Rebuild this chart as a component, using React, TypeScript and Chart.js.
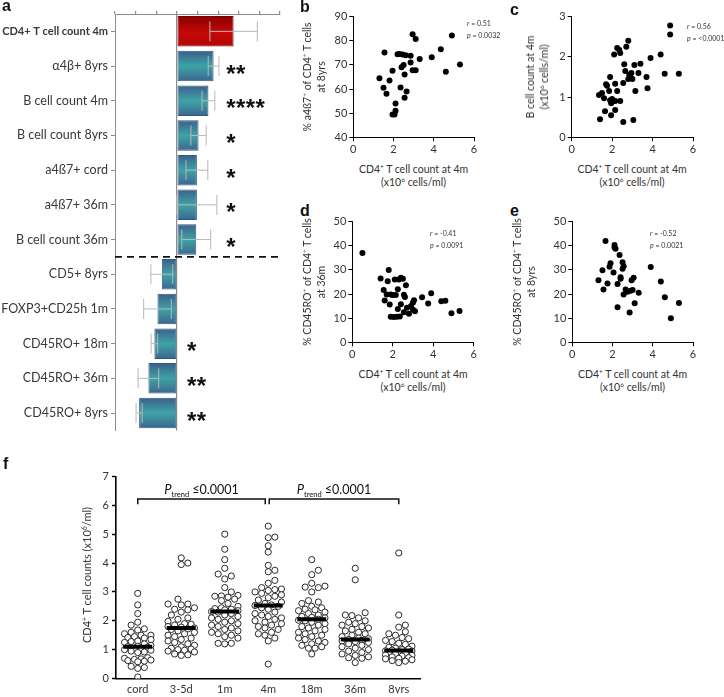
import React, { useEffect, useRef } from 'react';
import { Chart, registerables } from 'chart.js';
Chart.register(...registerables);
Chart.defaults.font.family = 'Lato';

// ---------------- Panel a data ----------------
const aLabels = ['CD4+ T cell count 4m', 'α4β+ 8yrs', 'B cell count 4m', 'B cell count 8yrs', 'a4ß7+ cord', 'a4ß7+ 36m', 'B cell count 36m', 'CD5+ 8yrs', 'FOXP3+CD25h 1m', 'CD45RO+ 18m', 'CD45RO+ 36m', 'CD45RO+ 8yrs'];
const aValues = [0.275, 0.178, 0.153, 0.105, 0.097, 0.097, 0.094, -0.073, -0.094, -0.109, -0.138, -0.183];
const aErrors = [0.115, 0.026, 0.031, 0.037, 0.053, 0.097, 0.07, 0.053, 0.067, 0.016, 0.05, 0.015];
const aStars = ['', '**', '****', '*', '*', '*', '*', '', '', '*', '**', '**'];

// ---------------- Panels b-e data ----------------
const bX = [1.55, 2.2, 2.3, 2.45, 2.6, 2.85, 2.95, 3.1, 4.9, 4.35, 3.9, 3.3, 2.85, 2.5, 2.4, 1.95, 2.95, 3.1, 4.6, 5.3, 2.55, 1.3, 1.8, 1.5, 2.35, 2.65, 2.55, 1.65, 2.1, 2.1, 1.95, 2.05];
const bY = [75.2, 74.4, 74.5, 74.3, 74.0, 73.8, 82.7, 80.8, 82.2, 76.5, 73.2, 72.5, 71.0, 70.0, 69.0, 67.6, 67.8, 67.8, 67.2, 70.2, 66.0, 64.5, 63.5, 60.5, 60.6, 59.0, 56.4, 58.1, 54.0, 51.0, 49.5, 49.5];

const cX = [4.87, 4.87, 2.8, 2.25, 2.35, 2.4, 2.7, 2.1, 4.4, 3.9, 1.9, 1.75, 1.7, 1.85, 2.15, 2.25, 2.55, 2.6, 2.65, 2.8, 2.9, 2.95, 3.0, 2.85, 3.1, 3.3, 3.4, 3.7, 4.6, 5.3, 3.75, 3.15, 1.35, 1.5, 1.6, 1.9, 1.95, 2.0, 2.15, 2.4, 1.65, 1.95, 2.15, 1.4, 2.55, 3.05];
const cY = [2.78, 2.56, 2.4, 2.22, 2.18, 2.1, 2.25, 2.06, 2.06, 1.97, 1.5, 1.28, 1.32, 1.15, 1.33, 1.15, 1.35, 1.82, 1.65, 1.45, 1.5, 1.6, 1.45, 1.55, 1.8, 1.6, 1.83, 1.5, 1.58, 1.58, 1.22, 1.15, 1.05, 1.1, 0.97, 0.92, 0.85, 0.95, 0.9, 0.9, 0.65, 0.55, 0.68, 0.45, 0.38, 0.43];

const dX = [0.5, 1.4, 1.75, 1.8, 1.55, 1.6, 1.7, 1.9, 2.0, 2.15, 2.1, 2.25, 2.3, 2.4, 2.5, 2.55, 2.6, 2.65, 1.85, 2.25, 2.4, 2.55, 2.7, 2.8, 2.9, 3.0, 3.05, 3.0, 3.1, 1.9, 2.05, 2.2, 2.35, 3.45, 3.75, 3.9, 4.4, 4.6, 4.9, 5.3];
const dY = [37, 26.5, 25.3, 30, 21.7, 17.3, 19.8, 19.8, 19.6, 19.6, 26, 22, 26, 26.8, 26.3, 19.7, 18.8, 23.7, 15.7, 13.8, 15.8, 12.5, 14.3, 11.8, 15, 16.5, 17.4, 13.5, 12.9, 10.6, 10.5, 10.6, 10.7, 18.7, 16.1, 20.3, 17, 17.2, 12, 13];

const eX = [1.65, 2.1, 2.1, 2.15, 2.35, 1.9, 1.85, 2.05, 1.5, 2.5, 2.55, 2.5, 3.9, 2.4, 2.4, 1.3, 1.55, 1.75, 2.25, 2.95, 3.05, 2.65, 2.75, 2.9, 3.0, 2.55, 3.3, 3.1, 2.25, 2.85, 4.4, 4.6, 4.9, 5.3];
const eY = [42, 40.3, 39.3, 38.8, 36.2, 32.8, 31.3, 28.9, 29.9, 33.2, 31.5, 30.5, 31.2, 27, 26.3, 25.7, 21.9, 24.4, 24.2, 25.7, 26.8, 21.9, 21, 21.4, 21.7, 19.8, 20.5, 16.2, 14.5, 12.4, 25.2, 18.7, 10, 16.3];

// ---------------- Panel f data ----------------
const fCats = ['cord', '3-5d', '1m', '4m', '18m', '36m', '8yrs'];
const fCord = [2.95, 2.55, 2.25, 1.95, 1.85, 1.72, 1.68, 1.6, 1.55, 1.5, 1.5, 1.45, 1.42, 1.4, 1.35, 1.3, 1.28, 1.25, 1.2, 1.15, 1.12, 1.1, 1.08, 1.05, 1.02, 1.0, 0.98, 0.95, 0.92, 0.9, 0.72, 0.7, 0.68, 0.66, 0.64, 0.62, 0.6, 0.58, 0.42, 0.38, 0.35, 0.05];
const f35d = [4.18, 4.0, 3.95, 2.75, 2.58, 2.58, 2.55, 2.45, 2.4, 2.38, 2.3, 2.2, 2.1, 2.05, 1.98, 1.9, 1.88, 1.85, 1.8, 1.78, 1.75, 1.72, 1.7, 1.65, 1.6, 1.55, 1.5, 1.45, 1.4, 1.35, 1.3, 1.25, 1.2, 1.15, 1.1, 1.05, 1.02, 1.0, 0.98, 0.95, 0.92, 0.85, 0.82, 0.8];
const f1m = [5.0, 4.48, 4.12, 3.82, 3.62, 3.55, 3.45, 3.15, 3.0, 2.88, 2.86, 2.85, 2.82, 2.75, 2.7, 2.6, 2.5, 2.45, 2.42, 2.4, 2.38, 2.35, 2.32, 2.3, 2.25, 2.2, 2.15, 2.1, 2.05, 2.0, 1.95, 1.9, 1.85, 1.8, 1.75, 1.7, 1.65, 1.6, 1.55, 1.5, 1.45, 1.4, 1.22, 1.22, 1.2];
const f4m = [5.28, 4.9, 4.88, 4.6, 4.38, 3.92, 3.75, 3.7, 3.4, 3.3, 3.15, 3.1, 3.08, 3.05, 3.0, 2.95, 2.9, 2.85, 2.8, 2.72, 2.65, 2.6, 2.55, 2.53, 2.5, 2.45, 2.4, 2.3, 2.25, 2.2, 2.15, 2.1, 2.05, 2.0, 1.95, 1.9, 1.85, 1.8, 1.75, 1.7, 1.6, 1.55, 1.5, 1.4, 1.3, 0.5];
const f18m = [4.12, 3.75, 3.6, 3.3, 3.2, 3.17, 3.15, 3.0, 2.7, 2.65, 2.6, 2.5, 2.45, 2.4, 2.38, 2.35, 2.3, 2.25, 2.2, 2.15, 2.12, 2.1, 2.05, 2.02, 2.0, 1.95, 1.9, 1.85, 1.8, 1.75, 1.7, 1.65, 1.6, 1.55, 1.5, 1.45, 1.4, 1.35, 1.3, 1.25, 1.2, 1.15, 1.1, 1.05, 1.05, 0.85];
const f36m = [3.82, 3.42, 2.28, 2.2, 2.18, 2.1, 2.0, 1.95, 1.9, 1.85, 1.8, 1.75, 1.7, 1.65, 1.6, 1.55, 1.5, 1.45, 1.4, 1.38, 1.35, 1.32, 1.3, 1.28, 1.25, 1.2, 1.15, 1.1, 1.05, 1.0, 0.95, 0.9, 0.85, 0.8, 0.75, 0.72, 0.7, 0.55];
const f8yrs = [4.35, 2.2, 1.85, 1.78, 1.62, 1.55, 1.5, 1.42, 1.38, 1.32, 1.28, 1.22, 1.18, 1.12, 1.08, 1.05, 1.02, 1.0, 0.98, 0.96, 0.95, 0.93, 0.9, 0.88, 0.85, 0.82, 0.8, 0.78, 0.75, 0.72, 0.7, 0.68, 0.65, 0.62, 0.6, 0.55];
const fGroups = [fCord, f35d, f1m, f4m, f18m, f36m, f8yrs];
const fMedians = [1.1, 1.75, 2.32, 2.53, 2.05, 1.35, 0.97];
const fBracketFrom = [0, 3];
const fBracketTo = [3, 6];
const fBracketP = ['≤0.0001', '≤0.0001'];

// ---------------- layout ----------------
type Rect = { left: number; top: number; width: number; height: number };
type Area = { l: number; t: number; r: number; b: number };

const aRect: Rect = { left: 0, top: 0, width: 300, height: 440 };
const aArea: Area = { l: 115, t: 14, r: 280, b: 437 };
const bRect: Rect = { left: 320, top: 6, width: 170, height: 152 };
const bArea: Area = { l: 353.3, t: 16.7, r: 474, b: 137.3 };
const cRect: Rect = { left: 540, top: 6, width: 170, height: 152 };
const cArea: Area = { l: 571.7, t: 16.7, r: 693, b: 137.3 };
const dRect: Rect = { left: 320, top: 211, width: 170, height: 152 };
const dArea: Area = { l: 352.3, t: 221.7, r: 473.7, b: 342.3 };
const eRect: Rect = { left: 540, top: 211, width: 170, height: 152 };
const eArea: Area = { l: 572.3, t: 221.7, r: 693, b: 342.3 };
const fRect: Rect = { left: 0, top: 458, width: 440, height: 239 };
const fArea: Area = { l: 116, t: 469, r: 420.5, b: 682 };

const TXT = '#333';

function ChartBox({ rect, make }: { rect: Rect; make: (c: HTMLCanvasElement) => Chart }) {
  const ref = useRef<HTMLCanvasElement>(null);
  useEffect(() => {
    const ch = make(ref.current as HTMLCanvasElement);
    return () => ch.destroy();
  }, []);
  return (
    <canvas
      ref={ref}
      width={rect.width}
      height={rect.height}
      style={{ position: 'absolute', left: rect.left, top: rect.top, width: rect.width, height: rect.height }}
    />
  );
}

// ---------------- Panel a ----------------
const aPlugin = {
  id: 'aExtras',
  afterDatasetsDraw(chart: any) {
    const { ctx, scales, chartArea } = chart;
    const x = scales.x, y = scales.y;
    ctx.save();
    ctx.strokeStyle = '#b8b8b8';
    ctx.lineWidth = 1;
    aValues.forEach((v, i) => {
      const yc = y.getPixelForValue(i);
      const x1 = x.getPixelForValue(v - aErrors[i]);
      const x2 = x.getPixelForValue(v + aErrors[i]);
      const cap = 10;
      ctx.beginPath();
      ctx.moveTo(x1, yc); ctx.lineTo(x2, yc);
      ctx.moveTo(x1, yc - cap); ctx.lineTo(x1, yc + cap);
      ctx.moveTo(x2, yc - cap); ctx.lineTo(x2, yc + cap);
      ctx.stroke();
    });
    ctx.fillStyle = '#111';
    ctx.font = 'bold 24px "Liberation Sans"';
    ctx.textAlign = 'center';
    ctx.textBaseline = 'alphabetic';
    aStars.forEach((s, i) => {
      if (!s) return;
      const yc = y.getPixelForValue(i);
      const start = x.getPixelForValue(aValues[i] > 0 ? 0.24 : 0.05);
      for (let k = 0; k < s.length; k++) {
        ctx.fillText('*', start + 4.5 + k * 9.8, yc + 15.5);
      }
    });
    const yd = (y.getPixelForValue(6) + y.getPixelForValue(7)) / 2;
    ctx.strokeStyle = '#111';
    ctx.lineWidth = 1.6;
    ctx.setLineDash([7, 5]);
    ctx.beginPath();
    ctx.moveTo(chartArea.left, yd);
    ctx.lineTo(chartArea.right, yd);
    ctx.stroke();
    ctx.restore();
  },
};

function makeA(canvas: HTMLCanvasElement) {
  const rect = aRect, area = aArea;
  return new Chart(canvas, {
    type: 'bar',
    data: {
      labels: aLabels,
      datasets: [
        {
          data: aValues,
          backgroundColor: (ctx: any) => {
            const chart = ctx.chart;
            const ys = chart.scales && chart.scales.y;
            const fallback = ctx.dataIndex === 0 ? '#b00000' : '#3a8fa0';
            if (ctx.type !== 'data' || !ys) return fallback;
            const c = ys.getPixelForValue(ctx.dataIndex);
            const band = ys.height / aLabels.length;
            const h = (band * 0.88) / 2;
            if (!isFinite(c) || !isFinite(h) || h <= 0) return fallback;
            const g = chart.ctx.createLinearGradient(0, c - h, 0, c + h);
            if (ctx.dataIndex === 0) {
              g.addColorStop(0, '#8a0000');
              g.addColorStop(0.55, '#c40808');
              g.addColorStop(1, '#b40404');
            } else {
              g.addColorStop(0, '#3c5e8c');
              g.addColorStop(0.5, '#3ea3a6');
              g.addColorStop(1, '#3c6590');
            }
            return g;
          },
          borderColor: (ctx: any) => (ctx.dataIndex === 0 ? '#7a0000' : '#2f5a7e'),
          borderWidth: 1,
          borderSkipped: false,
          barPercentage: 0.88,
          categoryPercentage: 1,
        } as any,
      ],
    },
    options: {
      indexAxis: 'y',
      animation: false,
      responsive: false,
      events: [],
      layout: { padding: { left: 0, top: 0, right: rect.left + rect.width - area.r, bottom: rect.top + rect.height - area.b } },
      plugins: { legend: { display: false }, tooltip: { enabled: false } },
      scales: {
        x: {
          type: 'linear',
          position: 'top',
          min: -0.3,
          max: 0.5,
          ticks: { display: false, stepSize: 0.1 },
          grid: {
            color: (c: any) => (c.tick && Math.abs(c.tick.value) < 1e-6 ? '#8c8c8c' : 'rgba(0,0,0,0)'),
            tickColor: '#8c8c8c',
            tickLength: 3,
            lineWidth: 1.2,
          },
          border: { color: '#8c8c8c', width: 1 },
          afterFit: (s: any) => { s.height = area.t - rect.top; },
        },
        y: {
          type: 'category',
          grid: { offset: false, drawOnChartArea: false, tickLength: 4, tickColor: '#8c8c8c' },
          border: { color: '#8c8c8c', width: 1 },
          ticks: {
            color: '#383838',
            padding: 3,
            font: (c: any) => (c.index === 0 ? { family: 'Lato', size: 11, weight: 'bold' } : { family: 'Lato', size: 12.5, weight: 'normal' }),
          },
          afterFit: (s: any) => { s.width = area.l - rect.left; },
        },
      },
    } as any,
    plugins: [aPlugin],
  });
}

// ---------------- Panels b-e ----------------
function makeScatter(rect: Rect, area: Area, xs: number[], ys: number[], yMin: number, yMax: number, yStep: number) {
  return (canvas: HTMLCanvasElement) =>
    new Chart(canvas, {
      type: 'scatter',
      data: {
        datasets: [
          {
            data: xs.map((x, i) => ({ x, y: ys[i] })),
            pointRadius: 3,
            pointHoverRadius: 3,
            pointBackgroundColor: '#000',
            pointBorderWidth: 0,
          },
        ],
      },
      options: {
        animation: false,
        responsive: false,
        events: [],
        layout: { padding: { left: 0, bottom: 0, top: area.t - rect.top, right: rect.left + rect.width - area.r } },
        plugins: { legend: { display: false }, tooltip: { enabled: false } },
        scales: {
          x: {
            type: 'linear',
            min: 0,
            max: 6,
            ticks: { stepSize: 2, color: TXT, font: { size: 11 }, padding: 2 },
            grid: { drawOnChartArea: false, tickLength: 4, tickColor: '#000' },
            border: { color: '#000', width: 1 },
            afterFit: (s: any) => { s.height = rect.top + rect.height - area.b; },
          },
          y: {
            type: 'linear',
            min: yMin,
            max: yMax,
            ticks: { stepSize: yStep, color: TXT, font: { size: 11 }, padding: 2 },
            grid: { drawOnChartArea: false, tickLength: 4, tickColor: '#000' },
            border: { color: '#000', width: 1 },
            afterFit: (s: any) => { s.width = area.l - rect.left; },
          },
        },
      } as any,
    });
}

// ---------------- Panel f ----------------
const F_PX_PER_UNIT = (fArea.b - fArea.t) / 7;
const F_PX_PER_CAT = (fArea.r - fArea.l) / fCats.length;

function swarmOffsets(values: number[], diam: number, maxOff: number): number[] {
  const placed: { x: number; y: number }[] = [];
  const order = values.map((_, i) => i).sort((a, b) => values[a] - values[b]);
  const res = new Array(values.length).fill(0);
  const step = diam / 2;
  const cands: number[] = [0];
  for (let k = 1; k * step <= maxOff; k++) cands.push(k * step, -k * step);
  for (const i of order) {
    const y = values[i] * F_PX_PER_UNIT;
    let best = 0, bestD = -1;
    for (const c of cands) {
      let minD = Infinity;
      for (const p of placed) {
        const d = Math.hypot(p.x - c, p.y - y);
        if (d < minD) minD = d;
      }
      if (minD >= diam) { best = c; break; }
      if (minD > bestD) { bestD = minD; best = c; }
    }
    placed.push({ x: best, y });
    res[i] = best;
  }
  return res;
}

const fPlugin = {
  id: 'fExtras',
  afterDraw(chart: any) {
    const { ctx, scales } = chart;
    const x = scales.x, y = scales.y;
    ctx.save();
    ctx.strokeStyle = '#111';
    ctx.fillStyle = '#111';
    ctx.lineWidth = 1.5;
    const yTop = y.getPixelForValue(6.22);
    const yBot = y.getPixelForValue(6.04);
    const yTxt = y.getPixelForValue(6.39);
    fBracketFrom.forEach((from, k) => {
      const x1 = x.getPixelForValue(from) + (k > 0 ? 1 : 0);
      const x2 = x.getPixelForValue(fBracketTo[k]) - (k === 0 ? 3 : 0);
      ctx.beginPath();
      ctx.moveTo(x1, yBot); ctx.lineTo(x1, yTop); ctx.lineTo(x2, yTop); ctx.lineTo(x2, yBot);
      ctx.stroke();
      const fMain = '12.5px Lato';
      const fItal = 'italic 13px Lato';
      const fSub = '7.5px Lato';
      ctx.font = fItal; const wP = ctx.measureText('P').width;
      ctx.font = fSub; const wS = ctx.measureText('trend').width;
      ctx.font = fMain; const wV = ctx.measureText(' ' + fBracketP[k]).width;
      let cx = (x1 + x2) / 2 - (wP + wS + wV) / 2;
      ctx.textAlign = 'left';
      ctx.textBaseline = 'alphabetic';
      ctx.font = fItal; ctx.fillText('P', cx, yTxt); cx += wP;
      ctx.font = fSub; ctx.fillText('trend', cx, yTxt + 3); cx += wS;
      ctx.font = fMain; ctx.fillText(' ' + fBracketP[k], cx, yTxt);
    });
    ctx.restore();
  },
};

function makeF(canvas: HTMLCanvasElement) {
  const rect = fRect, area = fArea;
  const pts: { x: number; y: number }[] = [];
  fGroups.forEach((vals, g) => {
    const offs = swarmOffsets(vals, 6.6, 13.5);
    vals.forEach((v, i) => pts.push({ x: g + offs[i] / F_PX_PER_CAT, y: v }));
  });
  return new Chart(canvas, {
    type: 'scatter',
    data: {
      datasets: [
        {
          data: fMedians.map((m, i) => ({ x: i, y: m })),
          pointStyle: 'line',
          pointRadius: 14.5,
          pointHoverRadius: 14.5,
          pointBorderColor: '#000',
          borderColor: '#000',
          pointBorderWidth: 4,
          order: 0,
        },
        {
          data: pts,
          pointRadius: 3.1,
          pointHoverRadius: 3.1,
          pointBackgroundColor: '#fff',
          pointBorderColor: '#2a2a2a',
          pointBorderWidth: 1,
          order: 1,
        },
      ],
    },
    options: {
      animation: false,
      responsive: false,
      events: [],
      layout: { padding: { left: 0, bottom: 0, top: area.t - rect.top, right: rect.left + rect.width - area.r } },
      plugins: { legend: { display: false }, tooltip: { enabled: false } },
      scales: {
        x: {
          type: 'linear',
          min: -0.5,
          max: fCats.length - 0.5,
          afterBuildTicks: (s: any) => { s.ticks = fCats.map((_, i) => ({ value: i })); },
          ticks: { color: TXT, font: { size: 11 }, padding: 4, callback: (v: any) => fCats[v] ?? '' },
          grid: { drawOnChartArea: false, drawTicks: false },
          border: { color: '#000', width: 1.6 },
          afterFit: (s: any) => { s.height = rect.top + rect.height - area.b; },
        },
        y: {
          type: 'linear',
          min: 0,
          max: 7,
          ticks: { stepSize: 1, color: TXT, font: { size: 11 }, padding: 3 },
          grid: { drawOnChartArea: false, tickLength: 4, tickColor: '#000', tickWidth: 1.5 },
          border: { color: '#000', width: 1.6 },
          afterFit: (s: any) => { s.width = area.l - rect.left; },
        },
      },
    } as any,
    plugins: [fPlugin],
  });
}

// ---------------- text helpers ----------------
const sup: React.CSSProperties = { fontSize: '0.62em', verticalAlign: '0.55em', lineHeight: 0 };

function Txt({ x, y, size = 10.5, children, align = 'center', style }: any) {
  const tx = align === 'center' ? '-50%' : align === 'right' ? '-100%' : '0';
  return (
    <div
      style={{
        position: 'absolute', left: x, top: y, transform: `translate(${tx}, -50%)`,
        fontSize: size, lineHeight: 1.2, whiteSpace: 'nowrap', color: TXT, fontFamily: 'Lato', ...style,
      }}
    >
      {children}
    </div>
  );
}

function VTxt({ x, y, size = 10.5, children, lh = 14 }: any) {
  return (
    <div
      style={{
        position: 'absolute', left: x, top: y, transform: 'translate(-50%, -50%) rotate(-90deg)',
        fontSize: size, lineHeight: `${lh}px`, whiteSpace: 'nowrap', color: TXT, fontFamily: 'Lato', textAlign: 'center',
      }}
    >
      {children}
    </div>
  );
}

function PanelLabel({ x, y, children }: any) {
  return (
    <div style={{ position: 'absolute', left: x, top: y, fontFamily: '"Liberation Sans"', fontWeight: 'bold', fontSize: 16, lineHeight: '16px', color: '#111' }}>
      {children}
    </div>
  );
}

const CD4X = (cx: number, y1: number) => (
  <>
    <Txt x={cx} y={y1}>CD4<span style={sup}>+</span> T cell count at 4m</Txt>
    <Txt x={cx} y={y1 + 12.7}>(x10<span style={sup}>6</span> cells/ml)</Txt>
  </>
);

function Stat({ x, y, r, p }: any) {
  return (
    <>
      <Txt x={x} y={y} size={7} align="left"><i>r</i> = {r}</Txt>
      <Txt x={x} y={y + 11.5} size={7} align="left"><i>p</i> = {p}</Txt>
    </>
  );
}

export default function App() {
  return (
    <div style={{ position: 'absolute', left: 0, top: 0, width: 724, height: 697, background: '#fff', overflow: 'hidden' }}>
      <ChartBox rect={aRect} make={makeA} />
      <ChartBox rect={bRect} make={makeScatter(bRect, bArea, bX, bY, 40, 90, 10)} />
      <ChartBox rect={cRect} make={makeScatter(cRect, cArea, cX, cY, 0, 3, 1)} />
      <ChartBox rect={dRect} make={makeScatter(dRect, dArea, dX, dY, 0, 50, 10)} />
      <ChartBox rect={eRect} make={makeScatter(eRect, eArea, eX, eY, 0, 50, 10)} />
      <ChartBox rect={fRect} make={makeF} />

      <PanelLabel x={2} y={-2}>a</PanelLabel>
      <PanelLabel x={300} y={-1}>b</PanelLabel>
      <PanelLabel x={510} y={2}>c</PanelLabel>
      <PanelLabel x={300} y={203}>d</PanelLabel>
      <PanelLabel x={510} y={203}>e</PanelLabel>
      <PanelLabel x={3} y={456}>f</PanelLabel>

      <VTxt x={314} y={77}>
        % a4ß7<span style={sup}>+</span> of CD4<span style={sup}>+</span> T cells<br />at 8yrs
      </VTxt>
      {CD4X(413.5, 169)}
      <Stat x={467} y={23} r="0.51" p="0.0032" />

      <VTxt x={537} y={77}>
        B cell count at 4m<br />(x10<span style={sup}>6</span> cells/ml)
      </VTxt>
      {CD4X(632, 169)}
      <Stat x={687} y={26} r="0.56" p="<0.0001" />

      <VTxt x={314} y={282}>
        % CD45RO<span style={sup}>+</span> of CD4<span style={sup}>+</span> T cells<br />at 36m
      </VTxt>
      {CD4X(413, 374)}
      <Stat x={430} y={233} r="-0.41" p="0.0091" />

      <VTxt x={524} y={282}>
        % CD45RO<span style={sup}>+</span> of CD4<span style={sup}>+</span> T cells<br />at 8yrs
      </VTxt>
      {CD4X(632.5, 374)}
      <Stat x={650} y={233} r="-0.52" p="0.0021" />

      <VTxt x={87} y={575} size={11}>
        CD4<span style={sup}>+</span> T cell counts (x10<span style={sup}>6</span>/ml)
      </VTxt>
    </div>
  );
}
